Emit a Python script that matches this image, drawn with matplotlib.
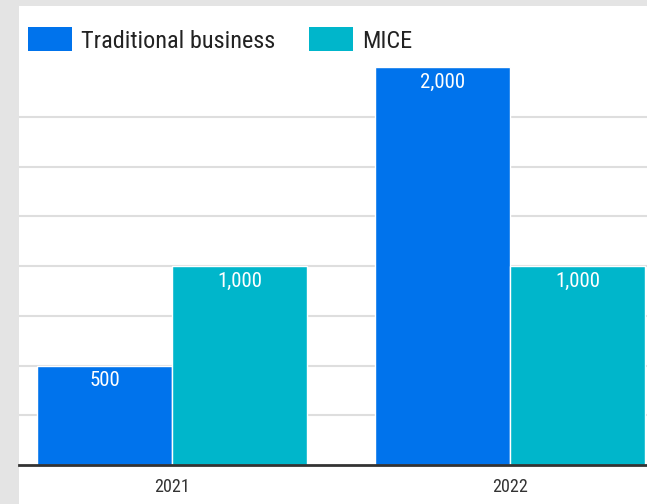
import matplotlib
matplotlib.use("Agg")
import matplotlib.pyplot as plt
from matplotlib.patches import Patch, Rectangle
import numpy as np

years = ["2021", "2022"]
traditional = [500, 2000]
mice = [1000, 1000]
series_names = ["Traditional business", "MICE"]
value_labels_trad = ["500", "2,000"]
value_labels_mice = ["1,000", "1,000"]

BLUE = "#0073ec"
TEAL = "#00b6cb"
plt.rcParams["font.family"] = ["Roboto Condensed", "Liberation Sans Narrow", "DejaVu Sans"]
plt.rcParams["font.stretch"] = "condensed"

W, H = 647, 504
fig = plt.figure(figsize=(W / 100, H / 100), dpi=100)
fig.patch.set_facecolor("#e4e4e4")

# white card behind the chart
fig.patches.append(Rectangle((19 / W, 0), 1 - 19 / W, (H - 6) / H,
                             transform=fig.transFigure, facecolor="white",
                             edgecolor="none", zorder=-10))

ax = fig.add_axes([19 / W, 39 / H, 628 / W, 398 / H])
ax.set_facecolor("none")

x = np.arange(len(years))
bw = 0.4
b1 = ax.bar(x - bw / 2, traditional, width=bw, color=BLUE,
            edgecolor="white", linewidth=1.0, zorder=3)
b2 = ax.bar(x + bw / 2, mice, width=bw, color=TEAL,
            edgecolor="white", linewidth=1.0, zorder=3)

for rect, txt in zip(b1, value_labels_trad):
    ax.annotate(txt, (rect.get_x() + rect.get_width() / 2, rect.get_height()),
                xytext=(0, -4), textcoords="offset points", ha="center",
                va="top", color="white", fontsize=15, zorder=4)
for rect, txt in zip(b2, value_labels_mice):
    ax.annotate(txt, (rect.get_x() + rect.get_width() / 2, rect.get_height()),
                xytext=(0, -4), textcoords="offset points", ha="center",
                va="top", color="white", fontsize=15, zorder=4)

ax.set_ylim(0, 2000)
ax.set_xlim(-0.453, 1.406)
ax.set_yticks(np.arange(250, 2000, 250))
ax.yaxis.grid(True, color="#dedede", linewidth=1.5, zorder=0)
ax.tick_params(axis="y", length=0, labelleft=False)
ax.set_xticks(x)
ax.set_xticklabels(years, fontsize=13, color="#333333")
ax.tick_params(axis="x", length=0, pad=9)
for side in ["top", "right", "left"]:
    ax.spines[side].set_visible(False)
ax.spines["bottom"].set_color("#333333")
ax.spines["bottom"].set_linewidth(2)
ax.spines["bottom"].set_zorder(5)

handles = [Patch(facecolor=BLUE, edgecolor="none"),
           Patch(facecolor=TEAL, edgecolor="none")]
fig.legend(handles, series_names, loc="center left",
           bbox_to_anchor=(28 / W, 1 - 40 / H), ncol=2, frameon=False,
           fontsize=17.5, handlelength=1.8, handleheight=1.15,
           handletextpad=0.37, columnspacing=1.4, borderpad=0,
           borderaxespad=0, labelcolor="#222222")

fig.savefig("out.png", dpi=100, facecolor=fig.get_facecolor())
